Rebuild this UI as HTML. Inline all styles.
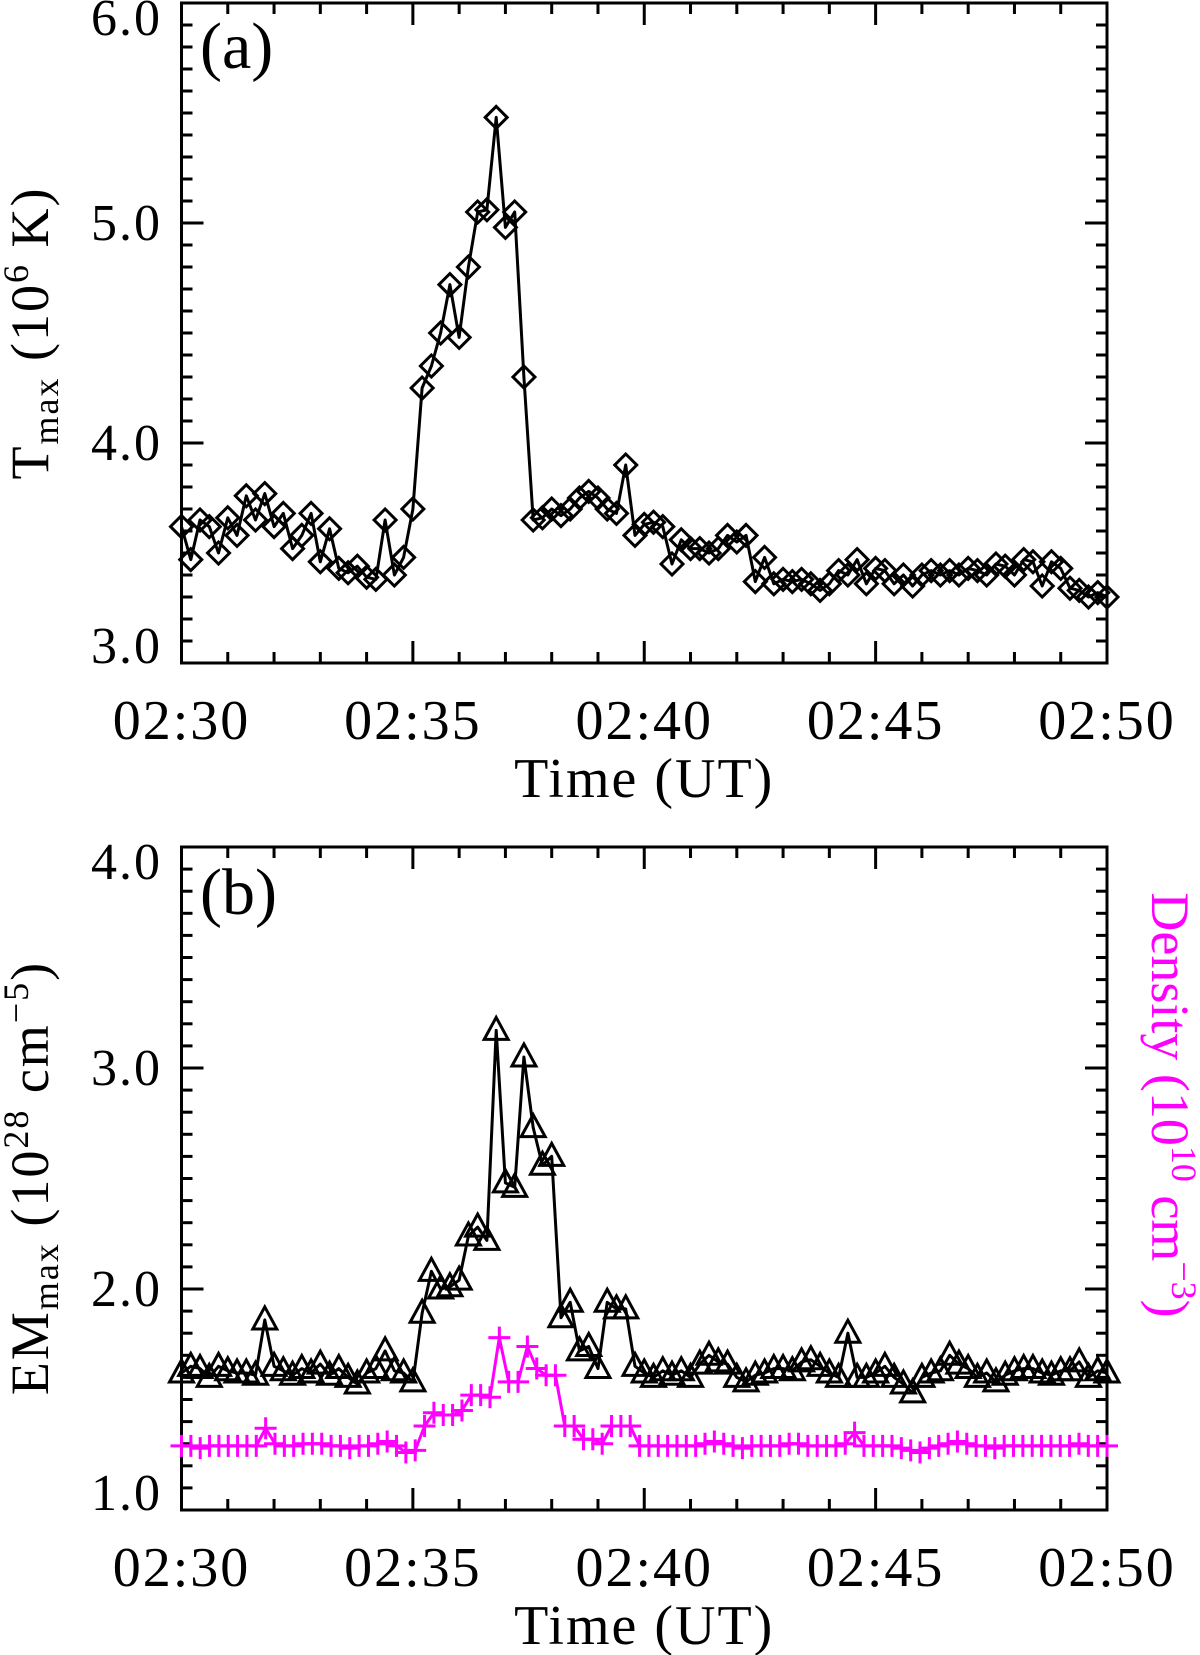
<!DOCTYPE html>
<html><head><meta charset="utf-8"><style>
html,body{margin:0;padding:0;background:#fff;}
svg{display:block;font-family:"Liberation Serif",serif;}
</style></head><body>
<svg id="fig" width="1200" height="1655" viewBox="0 0 1200 1655" xmlns="http://www.w3.org/2000/svg">
<g id="pa"></g>
<g id="pb"></g>
</svg>
<script>
const tempValues=[3.62,3.47,3.65,3.62,3.50,3.66,3.58,3.76,3.65,3.77,3.62,3.68,3.52,3.58,3.68,3.46,3.61,3.43,3.41,3.44,3.39,3.38,3.65,3.40,3.48,3.70,
4.25,4.35,4.50,4.72,4.48,4.80,5.05,5.06,5.48,4.98,5.05,4.30,
3.65,3.66,3.70,3.67,3.70,3.75,3.78,3.75,3.70,3.68,3.90,3.58,3.63,3.64,3.62,3.45,3.56,3.52,3.52,3.50,
3.52,3.58,3.55,3.58,3.37,3.48,3.36,3.38,3.37,3.38,3.36,3.33,3.36,3.42,3.40,3.47,3.36,3.43,3.42,3.36,
3.40,3.35,3.40,3.42,3.40,3.42,3.40,3.43,3.42,3.40,3.45,3.44,3.40,3.47,3.46,3.35,3.46,3.43,3.34,3.33,3.30,3.32,3.30];
const emValues=[1.62,1.65,1.64,1.60,1.65,1.63,1.62,1.62,1.61,1.86,1.65,1.63,1.61,1.64,1.62,1.66,1.61,1.64,1.60,1.57,1.62,1.64,1.72,1.63,1.62,
1.58,1.89,2.08,2.00,2.01,2.04,2.24,2.28,2.22,3.17,2.48,2.46,3.05,2.73,2.56,2.60,1.87,1.94,1.72,1.74,1.64,1.94,1.91,1.91,1.65,
1.62,1.60,1.63,1.61,1.63,1.60,1.66,1.70,1.67,1.66,1.60,1.58,1.61,1.62,1.64,1.64,1.63,1.67,1.68,1.65,1.62,1.60,1.80,
1.60,1.60,1.62,1.65,1.60,1.57,1.53,1.60,1.62,1.63,1.70,1.66,1.64,1.60,1.62,1.58,1.61,1.63,1.64,1.64,1.62,1.61,1.63,1.63,1.67,1.60,1.63,1.62];
const densValues=[1.29,1.29,1.28,1.29,1.29,1.29,1.29,1.29,1.29,1.37,1.30,1.29,1.29,1.30,1.30,1.30,1.29,1.29,1.28,1.29,1.29,1.30,1.31,1.29,1.26,
1.27,1.38,1.44,1.43,1.43,1.45,1.52,1.52,1.51,1.78,1.58,1.58,1.74,1.64,1.61,1.61,1.38,1.38,1.32,1.32,1.30,1.38,1.38,1.38,1.29,
1.29,1.29,1.29,1.29,1.29,1.29,1.30,1.31,1.30,1.29,1.28,1.29,1.29,1.29,1.29,1.30,1.30,1.29,1.29,1.29,1.29,1.30,1.35,
1.29,1.29,1.29,1.29,1.28,1.27,1.26,1.28,1.29,1.30,1.31,1.30,1.29,1.29,1.28,1.29,1.29,1.29,1.29,1.29,1.29,1.29,1.29,1.30,1.29,1.29,1.29];
const xTickLabels=["02:30","02:35","02:40","02:45","02:50"];
const tempTickLabels=["3.0","4.0","5.0","6.0"];
const emTickLabels=["1.0","2.0","3.0","4.0"];

const NS="http://www.w3.org/2000/svg";
const L=181.5,R=1107;
function el(parent,tag,attrs,text){const e=document.createElementNS(NS,tag);for(const k in attrs)e.setAttribute(k,attrs[k]);if(text!==undefined)e.textContent=text;parent.appendChild(e);return e;}
function xScale(i,n){return L+(R-L)*i/(n-1);}
function xMin(m){return L+(R-L)*m/20;}

function drawPanel(g,top,bot,ymin,ymax,yLabels){
  const ys=v=>bot-(v-ymin)/(ymax-ymin)*(bot-top);
  const fr=el(g,'rect',{x:L,y:top,width:R-L,height:bot-top,fill:'none',stroke:'#000','stroke-width':3});
  
  for(let m=0;m<=20;m++){const x=xMin(m);const len=m%5==0?22:11;
    const t1=el(g,'line',{x1:x,y1:bot,x2:x,y2:bot-len,stroke:'#000','stroke-width':3});
    
    const t2=el(g,'line',{x1:x,y1:top,x2:x,y2:top+len,stroke:'#000','stroke-width':3});
    }
  const nMinor=Math.round((ymax-ymin)*10);
  for(let k=0;k<=nMinor;k++){const y=ys(ymin+k*0.1);const len=k%10==0?22:11;
    const t1=el(g,'line',{x1:L,y1:y,x2:L+len,y2:y,stroke:'#000','stroke-width':3});
    
    const t2=el(g,'line',{x1:R,y1:y,x2:R-len,y2:y,stroke:'#000','stroke-width':3});
    }
  const nl=yLabels.length;
  yLabels.forEach((s,k)=>{const ty=ys(ymin+k);const off=k==0?0:(k==nl-1?32:17);
    const t=el(g,'text',{x:162,y:ty+off,'text-anchor':'end','font-size':52,'letter-spacing':2},s);
    });
  xTickLabels.forEach((s,k)=>{const t=el(g,'text',{x:xMin(k*5),y:bot+76,'text-anchor':'middle','font-size':56,'letter-spacing':2},s);
    });
  const xt=el(g,'text',{x:(L+R)/2,y:bot+134,'text-anchor':'middle','font-size':56,'letter-spacing':2},'Time (UT)');
  
  return ys;
}
function series(g,vals,ys,color,marker,name){
  const n=vals.length;const pts=vals.map((v,i)=>xScale(i,n).toFixed(1)+','+ys(v).toFixed(1)).join(' ');
  const pl=el(g,'polyline',{points:pts,fill:'none',stroke:color,'stroke-width':3,'stroke-linejoin':'round'});
  
  vals.forEach((v,i)=>{const x=xScale(i,n),y=ys(v);let m;
    if(marker=='diamond'){m=el(g,'polygon',{points:`${x},${y-11} ${x+11},${y} ${x},${y+11} ${x-11},${y}`,fill:'none',stroke:color,'stroke-width':3});}
    else if(marker=='tri'){m=el(g,'polygon',{points:`${x},${y-13} ${x+12},${y+9} ${x-12},${y+9}`,fill:'none',stroke:color,'stroke-width':3});}
    else {m=el(g,'path',{d:`M${x-11},${y}H${x+11}M${x},${y-11}V${y+11}`,stroke:color,'stroke-width':3});}
    });
}
// panel a
const ga=document.getElementById('pa');
const ysa=drawPanel(ga,3,663,3,6,tempTickLabels);
series(ga,tempValues,ysa,'#000','diamond','temperature');
let t=el(ga,'text',{x:200,y:68,'font-size':66},'(a)');
t=el(ga,'text',{transform:'translate(48,333) rotate(-90)','text-anchor':'middle','font-size':54,'letter-spacing':2});

t.innerHTML='T<tspan font-size="36" dy="10">max</tspan><tspan dy="-10"> (10</tspan><tspan font-size="36" dy="-20">6</tspan><tspan dy="20"> K)</tspan>';
// panel b
const gb=document.getElementById('pb');
const ysb=drawPanel(gb,847,1510,1,4,emTickLabels);
series(gb,densValues,ysb,'#ff00ff','plus','density');
series(gb,emValues,ysb,'#000','tri','emission-measure');
t=el(gb,'text',{x:200,y:914,'font-size':66},'(b)');
t=el(gb,'text',{transform:'translate(48,1178) rotate(-90)','text-anchor':'middle','font-size':54,'letter-spacing':2});

t.innerHTML='EM<tspan font-size="36" dy="10">max</tspan><tspan dy="-10"> (10</tspan><tspan font-size="36" dy="-20">28</tspan><tspan dy="20"> cm</tspan><tspan font-size="36" dy="-20">−5</tspan><tspan dy="20">)</tspan>';
t=el(gb,'text',{transform:'translate(1152,1105) rotate(90)','text-anchor':'middle','font-size':54,fill:'#ff00ff'});

t.innerHTML='Density (10<tspan font-size="36" dy="-20">10</tspan><tspan dy="20"> cm</tspan><tspan font-size="36" dy="-20">−3</tspan><tspan dy="20">)</tspan>';
</script>
</body></html>
